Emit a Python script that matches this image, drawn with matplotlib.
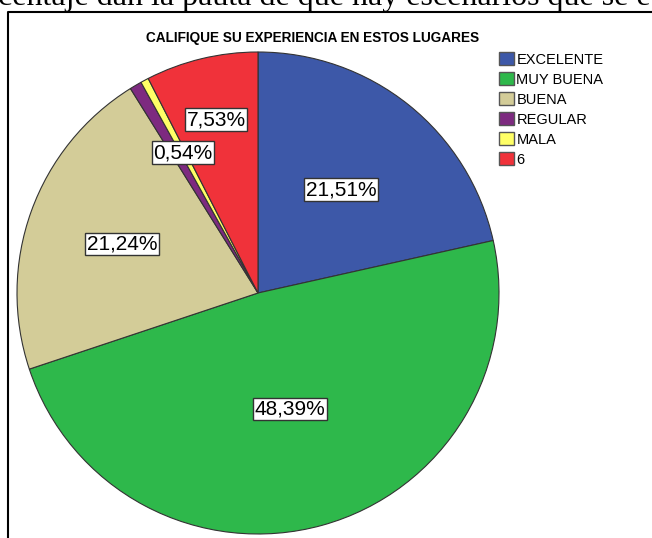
import numpy as np
import matplotlib.pyplot as plt
from matplotlib.patches import Patch
from matplotlib.lines import Line2D

plt.rcParams['font.family'] = ['Liberation Sans', 'DejaVu Sans']

# data
categories = ["EXCELENTE", "MUY BUENA", "BUENA", "REGULAR", "MALA", "6"]
percents = [21.51, 48.39, 21.24, 0.81, 0.54, 7.53]
colors = ["#3d58a8", "#2eb84b", "#d3cc98", "#7d2a80", "#ffff66", "#f0323a"]
show_label = [True, True, True, False, True, True]
label_r = [0.55, 0.5, 0.6, 0.6, 0.66, 0.74]

W, H = 652, 538
fig = plt.figure(figsize=(W / 100, H / 100), dpi=100)

# pie axes, centre ~ (258, 293) px, radius ~ 242 px
cx, cy, r = 258, 293, 241
ax = fig.add_axes([(cx - r) / W, (H - cy - r) / H, 2 * r / W, 2 * r / H])
wedges, _ = ax.pie(percents, colors=colors, startangle=90, counterclock=False,
                   wedgeprops=dict(edgecolor="#333333", linewidth=0.8))
ax.set_xlim(-1, 1)
ax.set_ylim(-1, 1)
ax.set_aspect("equal")

# percentage boxes
for w, p, show, lr in zip(wedges, percents, show_label, label_r):
    if not show:
        continue
    ang = np.deg2rad((w.theta1 + w.theta2) / 2)
    txt = f"{p:.2f}".replace(".", ",") + "%"
    ax.text(lr * np.cos(ang), lr * np.sin(ang), txt, ha="center", va="center",
            fontsize=15, bbox=dict(boxstyle="square,pad=0.08", facecolor="white",
                                   edgecolor="#333333", linewidth=1))

fig.text(313 / W, 1 - 38 / H, "CALIFIQUE SU EXPERIENCIA EN ESTOS LUGARES",
         ha="center", va="center", fontsize=9.8, fontweight="bold")

handles = [Patch(facecolor=c, edgecolor="#555555", linewidth=1) for c in colors]
fig.legend(handles, categories, loc="upper left", bbox_to_anchor=(499 / W, 1 - 52 / H),
           frameon=False, fontsize=10.5, handlelength=1.0, handleheight=1.0,
           handletextpad=0.2, labelspacing=0.38, borderpad=0, borderaxespad=0)

# surrounding frame (left and top edges visible)
fig.add_artist(Line2D([8 / W, 8 / W, 1.01], [-0.01, 1 - 12 / H, 1 - 12 / H],
                      color="black", linewidth=1.5, transform=fig.transFigure))

# cut-off text line from the document above
fig.text(-2 / W, 1 - 5 / H, "centaje dan la pauta de que hay escenarios que se e",
         ha="left", va="baseline", fontsize=23, family="Liberation Serif")

fig.savefig("out.png", dpi=100)
